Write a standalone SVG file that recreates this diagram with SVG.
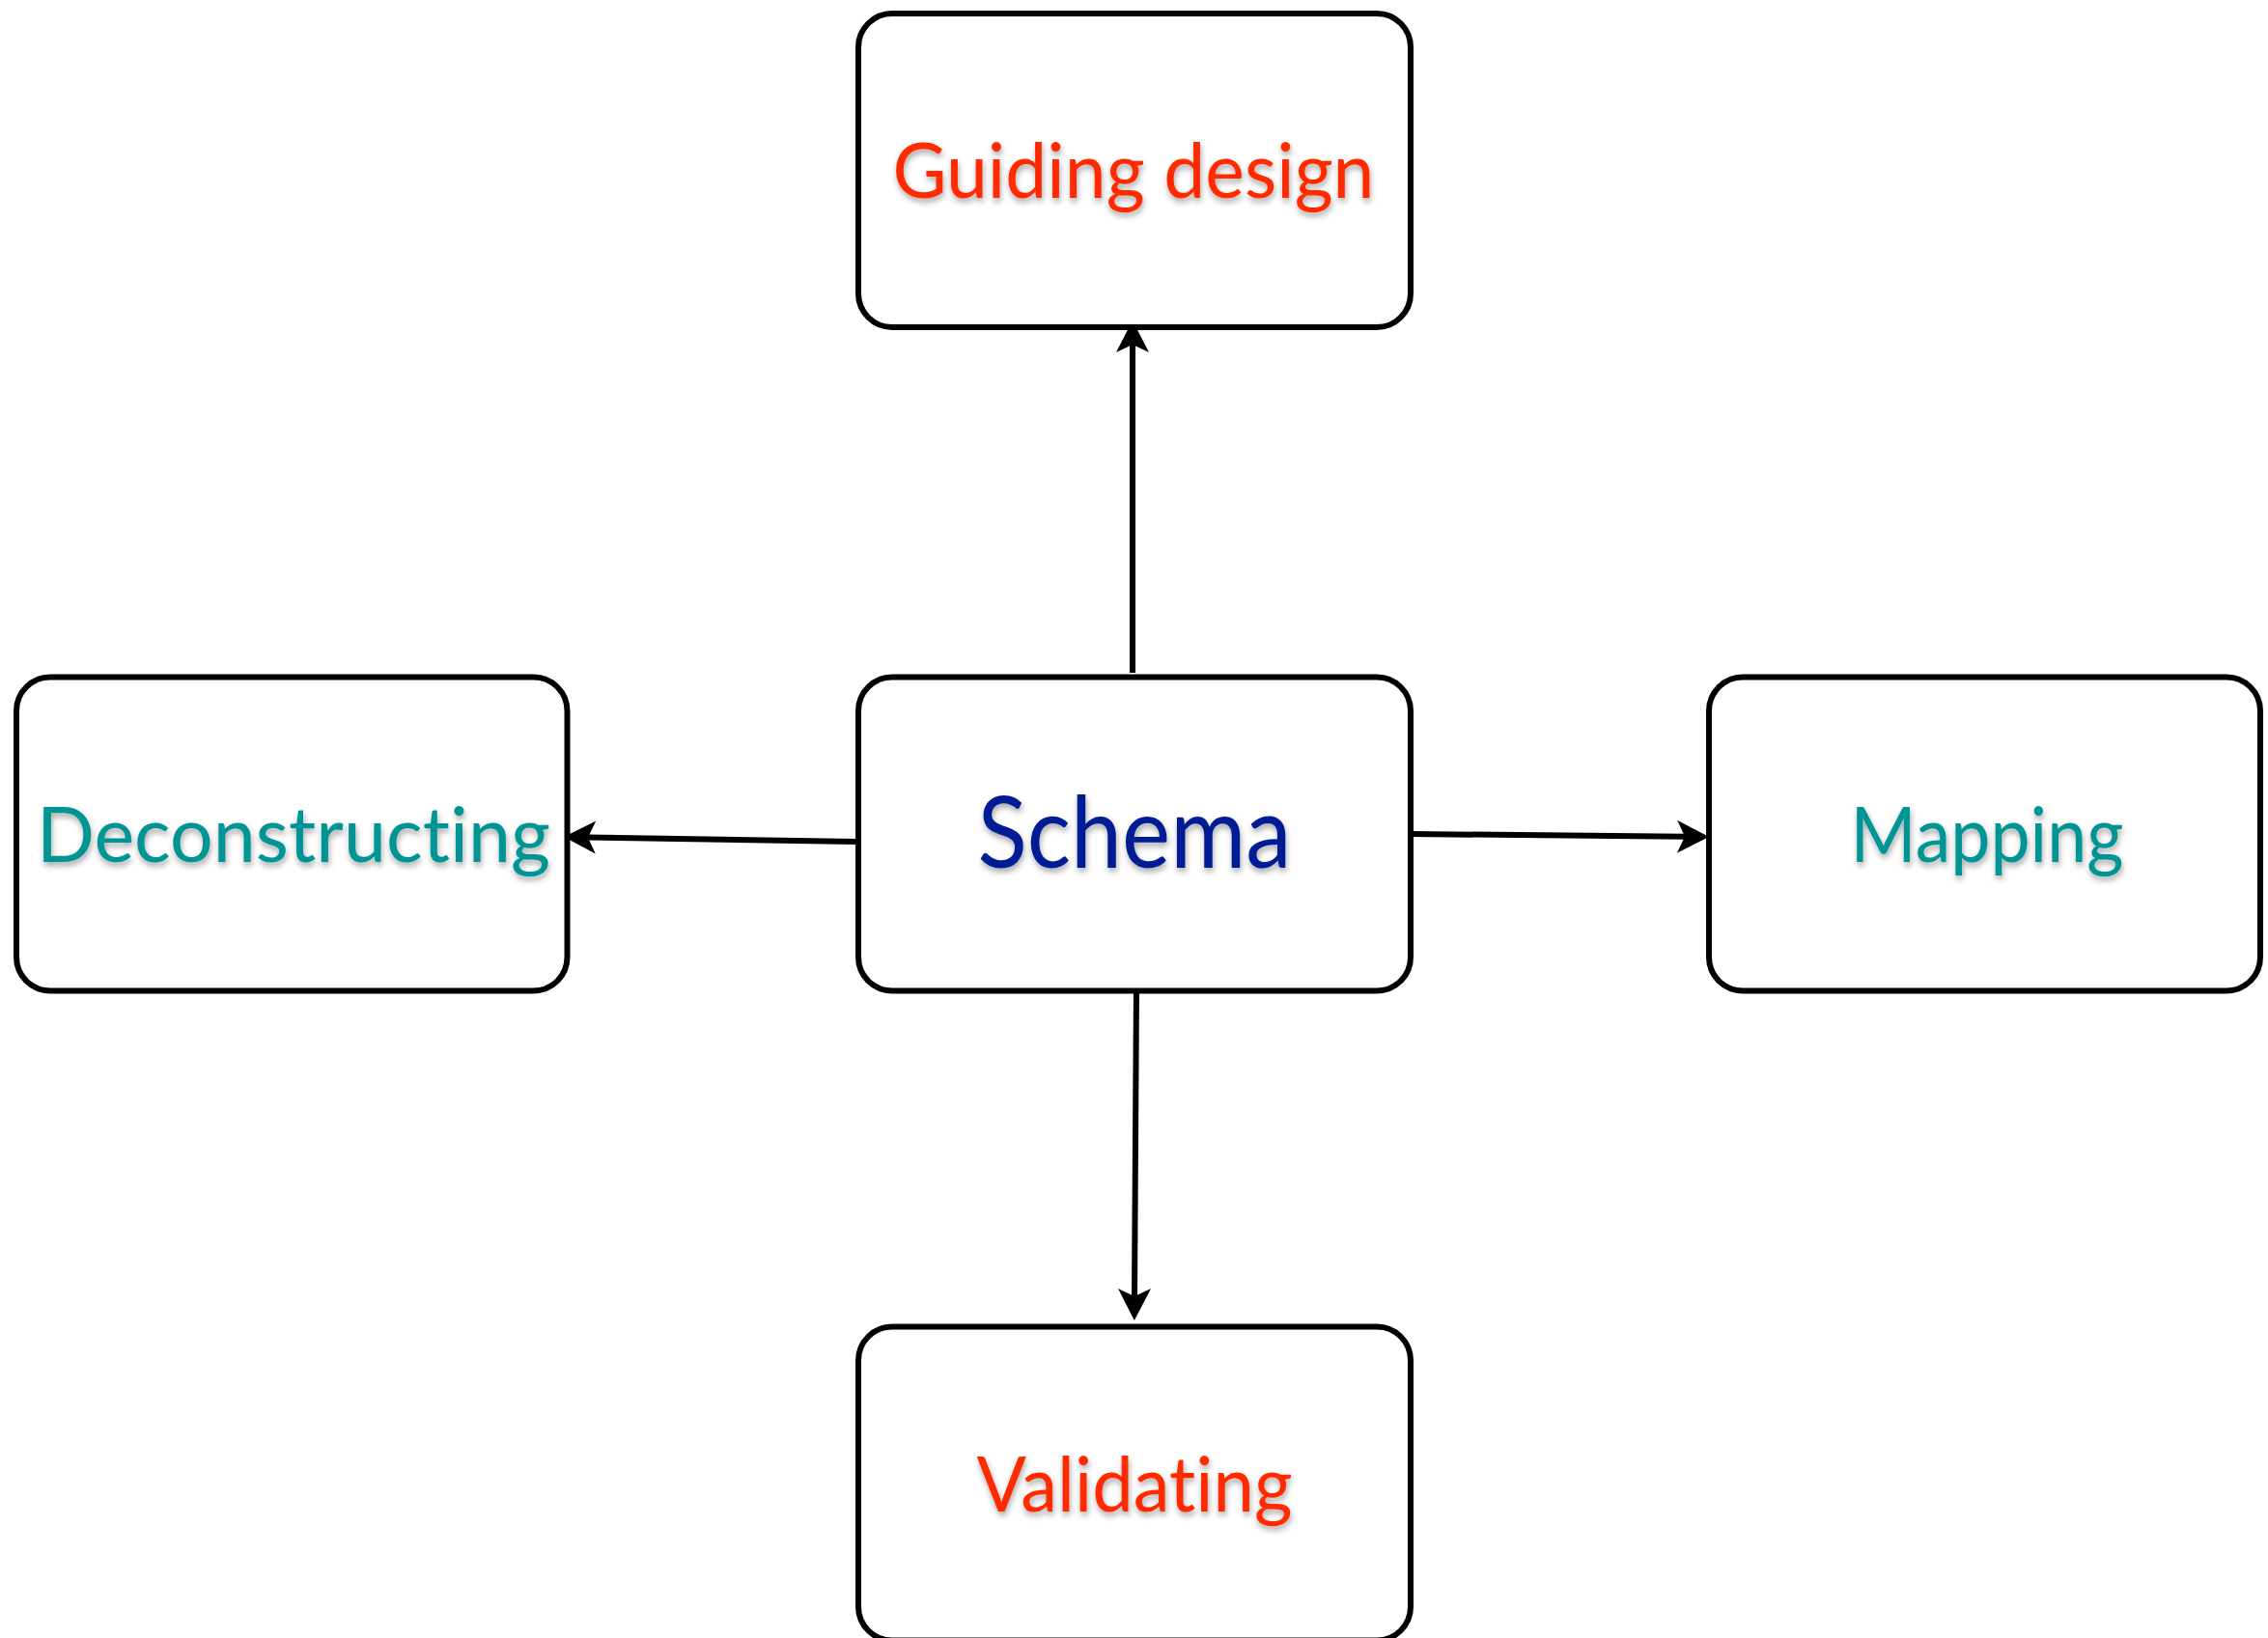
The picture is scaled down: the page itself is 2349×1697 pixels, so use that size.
<svg xmlns="http://www.w3.org/2000/svg" width="2349" height="1697" viewBox="0 0 2349 1697">
  <style>
    .box { fill: #ffffff; stroke: #000000; stroke-width: 6; }
    .label { font-family: Lato, "Open Sans", "Liberation Sans", sans-serif; text-anchor: middle; font-variant-ligatures: none; font-feature-settings: "liga" 0, "clig" 0; filter: url(#soft-shadow); }
    .red { fill: #ff2a00; }
    .teal { fill: #009494; }
    .navy { fill: #061a94; }
    .link { fill: none; stroke: #000000; stroke-width: 6; marker-end: url(#dart); }
  </style>
  <defs>
    <filter id="soft-shadow" x="-10%" y="-20%" width="120%" height="150%">
      <feDropShadow dx="1" dy="4" stdDeviation="3" flood-color="#000000" flood-opacity="0.35"/>
    </filter>
    <!-- dart-shaped arrowhead; the line ends at the notch, the tip sits 25px ahead -->
    <marker id="dart" markerUnits="userSpaceOnUse" viewBox="-10 -18 36 36" refX="0" refY="0" markerWidth="36" markerHeight="36" orient="auto">
      <path d="M25,0 L-8,-17 L0,0 L-8,17 Z" fill="#000000"/>
    </marker>
  </defs>

  <rect width="2349" height="1697" fill="#ffffff"/>

  <g id="connectors">
    <line class="link" x1="1173" y1="697" x2="1173" y2="357"/>
    <line class="link" x1="1177" y1="1023" x2="1175" y2="1343"/>
    <line class="link" x1="887" y1="872" x2="609" y2="867.4"/>
    <line class="link" x1="1462" y1="864" x2="1745" y2="866.8"/>
  </g>

  <g id="node-guiding-design">
    <rect class="box" x="889" y="14" width="572" height="325" rx="35" ry="35"/>
    <text class="label red" x="1174" y="205" font-size="80" textLength="499" lengthAdjust="spacingAndGlyphs">Guiding design</text>
  </g>

  <g id="node-schema">
    <rect class="box" x="889" y="701.5" width="572" height="325" rx="35" ry="35"/>
    <text class="label navy" x="1175" y="899" font-size="102" textLength="325" lengthAdjust="spacingAndGlyphs">Schema</text>
  </g>

  <g id="node-deconstructing">
    <rect class="box" x="17" y="701.5" width="570.5" height="325" rx="35" ry="35"/>
    <text class="label teal" x="304" y="893" font-size="80" textLength="532" lengthAdjust="spacingAndGlyphs">Deconstructing</text>
  </g>

  <g id="node-mapping">
    <rect class="box" x="1770" y="701.5" width="571" height="325" rx="35" ry="35"/>
    <text class="label teal" x="2058" y="893" font-size="80" textLength="283" lengthAdjust="spacingAndGlyphs">Mapping</text>
  </g>

  <g id="node-validating">
    <rect class="box" x="889" y="1374.5" width="572" height="325" rx="35" ry="35"/>
    <text class="label red" x="1175" y="1566" font-size="80" textLength="327" lengthAdjust="spacingAndGlyphs">Validating</text>
  </g>
</svg>
